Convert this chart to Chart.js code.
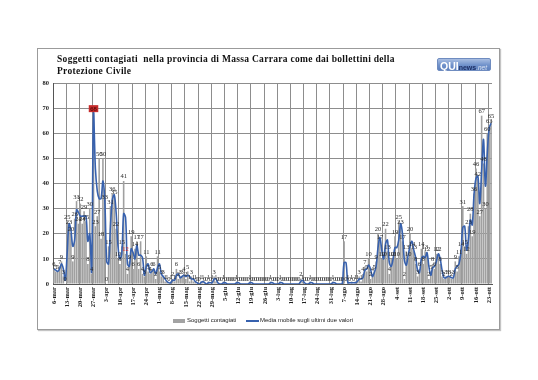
<!DOCTYPE html>
<html lang="it">
<head>
<meta charset="utf-8">
<title>Soggetti contagiati - Massa Carrara</title>
<script src="https://cdn.jsdelivr.net/npm/chart.js@4.4.1/dist/chart.umd.min.js"></script>
<style>
	html, body { margin: 0; padding: 0; background: #fff; }
	#page { position: relative; width: 538px; height: 380px; overflow: hidden; }
	#box { position: absolute; left: 37px; top: 48px; width: 461px; height: 280px; border: 1px solid #9b9b9b; box-shadow: 1px 1px 1px #c4c4c4; }
	#myChart { position: absolute; left: 0; top: 0; }
	#title { position: absolute; left: 57px; top: 54px; font: bold 9.5px "Liberation Serif", serif; letter-spacing: 0.3px; line-height: 11.6px; color: #111; white-space: pre; }
	#logo { position: absolute; left: 437px; top: 58px; width: 54px; height: 13px; box-sizing: border-box; border-radius: 2px; border: 1px solid #6f8cc0;
		background: linear-gradient(#a9bee2, #7092cb 55%, #5d80bd); font-family: "Liberation Sans", sans-serif; line-height: 11px; padding-left: 2px; white-space: nowrap; }
	#logo .q { font-weight: bold; font-size: 10.5px; color: #fff; }
	#logo .n { font-weight: bold; font-size: 7px; color: #1d2f66; }
	#logo .t { font-size: 6.5px; font-style: italic; color: #d9e2f2; }
	.sw { position: absolute; }
	.leg { position: absolute; top: 317px; font: 6px "Liberation Sans", sans-serif; color: #222; white-space: nowrap; }
</style>
</head>
<body>
<div id="page">
	<div id="box"></div>
	<canvas id="myChart" width="538" height="380"></canvas>
	<div id="title">Soggetti contagiati  nella provincia di Massa Carrara come dai bollettini della
Protezione Civile</div>
	<div id="logo"><span class="q">QUI</span><span class="n">news</span><span class="t">.net</span></div>
	<div class="sw" style="left:173px; top:319px; width:12px; height:4px; background:#a3a3a3;"></div>
	<div class="leg" style="left:187px;">Soggetti contagiati</div>
	<div class="sw" style="left:246px; top:320px; width:13px; height:1.5px; background:#3761ae;"></div>
	<div class="leg" style="left:260px;">Media mobile sugli ultimi due valori</div>
</div>
<script>
	// Daily values from 6 March, one row per week
	let contagiati = [
		6,5,5,7,9,3,0,
		25,23,20,9,26,33,24,
		32,24,29,25,8,30,4,
		68,23,27,50,18,50,33,
		0,15,31,36,35,22,10,
		8,15,41,12,4,9,19,
		6,14,17,6,17,4,3,
		11,5,4,6,6,2,11,
		5,3,3,1,1,0,1,
		2,1,6,2,3,3,4,
		2,5,1,3,1,1,0,
		0,1,1,0,0,1,0,
		1,3,1,0,0,0,1,
		0,0,0,0,0,0,1,
		0,0,0,0,0,0,1,
		0,0,0,0,0,0,0,
		0,0,0,1,0,0,0,
		0,1,0,0,0,0,0,
		0,0,0,0,0,2,1,
		0,0,0,1,0,0,0,
		0,0,0,0,0,0,0,
		0,1,0,0,0,0,0,
		17,0,1,0,1,0,1,
		1,3,1,4,7,5,10,
		2,4,5,9,20,17,10,
		10,22,13,4,10,10,19,
		10,25,23,17,2,13,10,
		20,14,13,8,3,6,14,
		8,13,12,2,5,8,6,
		12,12,8,3,2,3,3,
		3,2,3,9,5,11,14,
		31,15,12,23,28,19,36,
		46,42,27,67,48,30,60,
		63,65
	];

	// Moving average line
	let mediaMobile = [
		6,5.5,5,6,8,6,1.5,
		12,24,21.5,15,17.5,29.5,28.5,
		27,27,27,27,17,20,5,
		68,46,37,34,34,41,33,
		9,8,23,33.5,35.5,28.5,15,
		10,12,28,26.5,8,7,14,
		12.5,10,15.5,11.5,11.5,10.5,3.5,
		7,8,4.5,5,6,4,6.5,
		8,4,3,2,1,0.5,0.5,
		1.5,1.5,3.5,4,2.5,3,3.5,
		3,3.5,3,2,2,1,0.5,
		0,0.5,1,0.5,0,0.5,0.5,
		0.5,2,2,0.5,0,0,0.5,
		0.5,0,0,0,0,0,0.5,
		0.5,0,0,0,0,0,0.5,
		0.5,0,0,0,0,0,0,
		0,0,0,0.5,0.5,0,0,
		0,0.5,0.5,0,0,0,0,
		0,0,0,0,0,1,1.5,
		0.5,0,0,0.5,0.5,0,0,
		0,0,0,0,0,0,0,
		0,0.5,0.5,0,0,0,0,
		8.5,8.5,0.5,0.5,0.5,0.5,0.5,
		1,2,2,2.5,5.5,6,7.5,
		6,3,4.5,7,14.5,18.5,13.5,
		10,16,17.5,8.5,7,10,14.5,
		14.5,17.5,24,20,9.5,7.5,11.5,
		15,17,13.5,10.5,5.5,4.5,10,
		11,10.5,12.5,7,3.5,6.5,7,
		9,12,10,5.5,2.5,2.5,3,
		3,2.5,2.5,6,7,8,12.5,
		22.5,23,13.5,17.5,25.5,23.5,36,
		42,43,32,45,57.5,39,52,
		62,64
	];

	// Weekly labels shown on the x axis
	let tickLabels = ["6-mar","13-mar","20-mar","27-mar","3-apr","10-apr","17-apr","24-apr","1-mag","8-mag","15-mag","22-mag","29-mag",
		"5-giu","12-giu","19-giu","26-giu","3-lug","10-lug","17-lug","24-lug","31-lug","7-ago","14-ago","21-ago","28-ago",
		"4-set","11-set","18-set","25-set","2-ott","9-ott","16-ott","23-ott"];

	let yTicks = [0,10,20,30,40,50,60,70,80];

	// one category per day
	let mesi = ["gen","feb","mar","apr","mag","giu","lug","ago","set","ott","nov","dic"];
	let giorni = [];
	for (let d = new Date(2020, 2, 6); giorni.length < contagiati.length; d.setDate(d.getDate() + 1)) {
		giorni.push(d.getDate() + "-" + mesi[d.getMonth()]);
	}

	// value labels over the bars
	const barLabels = {
		id: 'barLabels',
		afterDatasetsDraw(chart) {
			let meta = chart.getDatasetMeta(1);
			let c = chart.ctx;
			c.save();
			c.font = '6.5px "Liberation Serif"';
			c.textAlign = 'center';
			c.textBaseline = 'bottom';
			meta.data.forEach((bar, i) => {
				let txt = String(contagiati[i]);
				if (contagiati[i] == 68) {
					let w = c.measureText(txt).width;
					c.fillStyle = '#c62b2b';
					c.fillRect(bar.x - w/2 - 1.5, bar.y - 8, w + 3, 7);
					c.fillStyle = '#3a0000';
				} else if (i == 38) {
					c.fillStyle = '#d01f1f';
				} else {
					c.fillStyle = '#2a2a2a';
				}
				c.fillText(txt, bar.x, bar.y - 1);
			});
			c.restore();
		}
	};

	var ctx = document.getElementById('myChart').getContext('2d');
	var chart = new Chart(ctx, {
		type: 'bar',
		data: {
			labels: giorni,
			datasets: [{
				type: 'line',
				label: 'Media mobile sugli ultimi due valori',
				data: mediaMobile,
				borderColor: '#3761ae',
				borderWidth: 1.6,
				pointRadius: 0,
				tension: 0.35,
				order: 0
			}, {
				label: 'Soggetti contagiati',
				data: contagiati,
				backgroundColor: '#a0a0a0',
				barPercentage: 0.85,
				categoryPercentage: 1,
				order: 1
			}]
		},
		options: {
			responsive: false,
			animation: false,
			layout: { padding: { left: 37, top: 83, right: 46, bottom: 64 } },
			plugins: { legend: { display: false }, tooltip: { enabled: false } },
			scales: {
				x: {
					ticks: {
						autoSkip: false, minRotation: 90, maxRotation: 90, padding: 3,
						color: '#222', font: { family: 'Liberation Serif', size: 6.5, weight: 'bold' },
						callback: (v, i) => tickLabels.includes(giorni[i]) ? giorni[i] : ''
					},
					grid: { offset: true, drawTicks: false, color: g => (g.index % 7 === 0 ? '#8d8d8d' : 'rgba(0,0,0,0)') },
					border: { color: '#555' },
					afterFit: s => { s.height = 32; }
				},
				y: {
					min: yTicks[0], max: yTicks[yTicks.length - 1],
					ticks: { stepSize: 10, padding: 4, color: '#222', font: { family: 'Liberation Serif', size: 6.5, weight: 'bold' } },
					grid: { color: '#8d8d8d', drawTicks: false },
					border: { color: '#555' },
					afterFit: s => { s.width = 16; }
				}
			}
		},
		plugins: [barLabels]
	});
</script>
</body>
</html>
